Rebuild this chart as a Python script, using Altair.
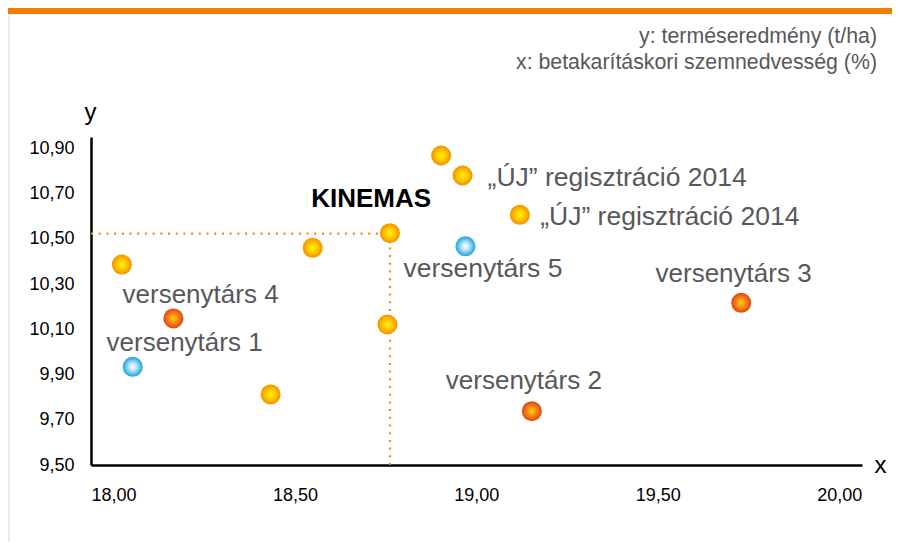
import altair as alt
import pandas as pd

# ---- data ----
pt_x = [18.023, 18.549, 18.165, 18.053, 18.433, 18.903, 18.962, 19.120, 18.762, 18.970, 18.755, 19.153, 19.730]
pt_y = [10.386, 10.460, 10.148, 9.934, 9.812, 10.868, 10.780, 10.606, 10.525, 10.467, 10.121, 9.738, 10.217]
pt_kind = ["yellow", "yellow", "red", "blue", "yellow", "yellow", "yellow", "yellow",
           "yellow", "blue", "yellow", "red", "red"]

lab_text = ["KINEMAS", "„ÚJ” regisztráció 2014", "„ÚJ” regisztráció 2014",
            "versenytárs 1", "versenytárs 2", "versenytárs 3", "versenytárs 4", "versenytárs 5"]
lab_x = [18.710, 19.031, 19.176, 18.196, 19.131, 19.709, 18.240, 18.799]
lab_y = [10.640, 10.733, 10.563, 10.003, 9.834, 10.310, 10.217, 10.329]
lab_group = ["bold", "left", "left", "center", "center", "center", "center", "left"]

x_ticks = [18.0, 18.5, 19.0, 19.5, 20.0]
y_ticks = [9.5, 9.7, 9.9, 10.1, 10.3, 10.5, 10.7, 10.9]
x_domain = [17.938, 20.063]
y_domain = [9.5, 10.95]

ref_x = 18.762
ref_y = 10.523

legend_lines = ["y: terméseredmény (t/ha)", "x: betakarításkori szemnedvesség (%)"]

FONT = "Liberation Sans"
ORANGE = "#ee7d00"
GREY = "#58585a"

pts = pd.DataFrame({"x": pt_x, "y": pt_y, "kind": pt_kind})
labs = pd.DataFrame({"x": lab_x, "y": lab_y, "text": lab_text, "grp": lab_group})
hline = pd.DataFrame({"x": [x_domain[0]], "x2": [ref_x], "y": [ref_y]})
vline = pd.DataFrame({"x": [ref_x], "y": [y_domain[0]], "y2": [ref_y]})

xs = alt.Scale(domain=x_domain, nice=False, zero=False)
ys = alt.Scale(domain=y_domain, nice=False, zero=False)

lbl = "replace(format(datum.value, '.2f'), '.', ',')"

x_axis = alt.Axis(values=x_ticks, labelExpr=lbl, title="x", titleAngle=0,
                  titleX=789, titleY=7, titleBaseline="alphabetic", titleAlign="center",
                  titleFontSize=24, titleFontWeight="normal", titleColor="black",
                  titleFont=FONT, labelFont=FONT, labelFontSize=18, labelColor="black",
                  labelPadding=21, ticks=False, grid=False, domainColor="black",
                  domainWidth=2.5, labelFlush=False, labelOverlap=False)
y_axis = alt.Axis(values=y_ticks, labelExpr=lbl, title="y", titleAngle=0,
                  titleX=-1, titleY=-18, titleBaseline="alphabetic", titleAlign="center",
                  titleFontSize=24, titleFontWeight="normal", titleColor="black",
                  titleFont=FONT, labelFont=FONT, labelFontSize=18, labelColor="black",
                  labelPadding=17, ticks=False, grid=False, domainColor="black",
                  domainWidth=2.5, labelFlush=False, labelOverlap=False)

def grad(stops):
    return {"gradient": "radial", "x1": 0.5, "y1": 0.5, "r1": 0,
            "x2": 0.5, "y2": 0.5, "r2": 0.5,
            "stops": [{"offset": o, "color": c} for o, c in stops]}

fills = {
    "yellow": grad([(0, "#fff200"), (0.45, "#ffcc00"), (1, "#f29100")]),
    "red": grad([(0, "#ffd200"), (0.4, "#f7941d"), (1, "#e3420f")]),
    "blue": grad([(0, "#ffffff"), (0.35, "#c4e8f8"), (1, "#18a2de")]),
}

hrule = alt.Chart(hline).mark_rule(color="#f08a1c", strokeWidth=2.2, strokeDash=[2, 5.7]).encode(
    x=alt.X("x:Q", scale=xs, axis=x_axis), x2="x2:Q",
    y=alt.Y("y:Q", scale=ys, axis=y_axis))
vrule = alt.Chart(vline).mark_rule(color="#f08a1c", strokeWidth=2.2, strokeDash=[2, 5.7]).encode(
    x=alt.X("x:Q", scale=xs), y=alt.Y("y:Q", scale=ys), y2="y2:Q")

circles = [
    alt.Chart(pts).transform_filter(alt.datum.kind == k).mark_circle(
        size=400, opacity=1, fill=fills[k]).encode(
        x=alt.X("x:Q", scale=xs), y=alt.Y("y:Q", scale=ys))
    for k in ["yellow", "red", "blue"]
]

txt_center = alt.Chart(labs).transform_filter(alt.datum.grp == "center").mark_text(
    font=FONT, fontSize=26, color=GREY, align="center", baseline="alphabetic").encode(
    x=alt.X("x:Q", scale=xs), y=alt.Y("y:Q", scale=ys), text="text:N")
txt_left = alt.Chart(labs).transform_filter(alt.datum.grp == "left").mark_text(
    font=FONT, fontSize=26.5, color=GREY, align="left", baseline="alphabetic").encode(
    x=alt.X("x:Q", scale=xs), y=alt.Y("y:Q", scale=ys), text="text:N")
txt_bold = alt.Chart(labs).transform_filter(alt.datum.grp == "bold").mark_text(
    font=FONT, fontSize=26, fontWeight="bold", color="black", align="center",
    baseline="alphabetic").encode(
    x=alt.X("x:Q", scale=xs), y=alt.Y("y:Q", scale=ys), text="text:N")

one = alt.Data(values=[{"a": 1}])
top_bar = alt.Chart(one).mark_rect(color=ORANGE).encode(
    x=alt.value(-83), x2=alt.value(801), y=alt.value(-129), y2=alt.value(-123))
left_line = alt.Chart(one).mark_rule(color="#e4e4e4", strokeWidth=1.5).encode(
    x=alt.value(-82), y=alt.value(-123), y2=alt.value(405))
leg1 = alt.Chart(one).mark_text(font=FONT, fontSize=21.3, color=GREY, align="right",
                                baseline="alphabetic").encode(
    x=alt.value(786), y=alt.value(-94), text=alt.value(legend_lines[0]))
leg2 = alt.Chart(one).mark_text(font=FONT, fontSize=21.3, color=GREY, align="right",
                                baseline="alphabetic").encode(
    x=alt.value(786), y=alt.value(-68), text=alt.value(legend_lines[1]))

chart = alt.layer(hrule, vrule, *circles, txt_center, txt_left, txt_bold,
                  top_bar, left_line, leg1, leg2).properties(
    width=771, height=328,
    autosize=alt.AutoSizeParams(type="none"),
    padding={"left": 83, "top": 129, "right": 30, "bottom": 77},
    background="white",
).configure_view(stroke=None, strokeWidth=0)

chart.save("out.html", embed_options={"renderer": "svg", "actions": False})
